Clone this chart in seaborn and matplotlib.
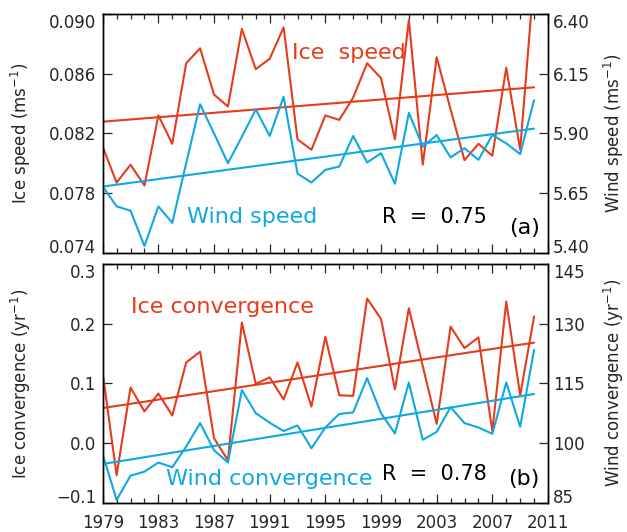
import matplotlib
matplotlib.use("Agg")
import matplotlib.pyplot as plt
import seaborn as sns
import numpy as np

# ---------------- data ----------------
years = list(range(1979, 2011))
ice_speed = [0.0811, 0.0787, 0.0799, 0.0785, 0.0832, 0.0813, 0.0867, 0.0877,
             0.0846, 0.0838, 0.0890, 0.0863, 0.0870, 0.0891, 0.0816, 0.0809,
             0.0832, 0.0829, 0.0844, 0.0867, 0.0857, 0.0816, 0.0896, 0.0799,
             0.0871, 0.0836, 0.0802, 0.0813, 0.0805, 0.0864, 0.0809, 0.0925]
wind_speed = [5.678, 5.594, 5.576, 5.428, 5.594, 5.525, 5.775, 6.022,
              5.900, 5.775, 5.886, 6.000, 5.889, 6.053, 5.731, 5.694,
              5.747, 5.761, 5.889, 5.778, 5.817, 5.689, 5.986, 5.844,
              5.893, 5.799, 5.838, 5.789, 5.893, 5.858, 5.813, 6.039]
ice_conv = [0.117, -0.054, 0.093, 0.053, 0.083, 0.046, 0.135, 0.153,
            0.008, -0.029, 0.202, 0.099, 0.110, 0.073, 0.135, 0.061,
            0.178, 0.080, 0.079, 0.242, 0.208, 0.090, 0.226, 0.129,
            0.032, 0.195, 0.159, 0.177, 0.020, 0.237, 0.080, 0.212]
wind_conv = [97.2, 85.7, 91.8, 92.8, 95.1, 93.9, 99.1, 105.0,
             98.2, 95.1, 113.3, 107.5, 105.1, 103.0, 104.4, 98.7,
             103.9, 107.3, 107.7, 116.3, 107.5, 102.4, 115.2, 100.8,
             102.8, 109.0, 105.0, 103.9, 102.3, 115.2, 104.1, 123.4]

xticks = list(range(1979, 2012, 4))
top_left_ticks = [0.074, 0.078, 0.082, 0.086, 0.090]
top_left_labels = ["0.074", "0.078", "0.082", "0.086", "0.090"]
top_right_ticks = [5.40, 5.65, 5.90, 6.15, 6.40]
top_right_labels = ["5.40", "5.65", "5.90", "6.15", "6.40"]
bot_left_ticks = [-0.1, 0.0, 0.1, 0.2, 0.3]
bot_left_labels = ["\u22120.1", "0.0", "0.1", "0.2", "0.3"]
bot_right_ticks = [85, 100, 115, 130, 145]
bot_right_labels = ["85", "100", "115", "130", "145"]

RED = "#E43C1C"
BLUE = "#0FA8E2"

sns.set_style("ticks")
plt.rcParams["font.family"] = ["DejaVu Sans"]

fig = plt.figure(figsize=(6.27, 5.32), dpi=100)
ax1 = fig.add_axes([0.1638, 0.5250, 0.7102, 0.4487])
ax2 = fig.add_axes([0.1638, 0.0551, 0.7102, 0.4487])


def style_axes(ax, tw, lt, ll, rt, rl, ylim_l, ylim_r, show_x):
    ax.set_xlim(1979, 2011)
    ax.set_ylim(*ylim_l)
    tw.set_ylim(*ylim_r)
    ax.set_xticks(xticks)
    ax.set_yticks(lt)
    ax.set_yticklabels(ll)
    tw.set_yticks(rt)
    tw.set_yticklabels(rl)
    ax.tick_params(axis="x", which="major", direction="in", length=6.5, width=0.9,
                   top=True, bottom=True, labelbottom=show_x, labelsize=12, pad=8)
    ax.tick_params(axis="y", which="major", direction="in", length=6.5, width=0.9,
                   left=True, right=False, labelsize=12, pad=4.5)
    tw.tick_params(axis="y", which="major", direction="in", length=6.5, width=0.9,
                   right=True, labelsize=12, pad=3.5)
    ax.xaxis.set_minor_locator(matplotlib.ticker.FixedLocator(years + [2011]))
    ax.tick_params(axis="x", which="minor", direction="in", length=3.6, width=0.9,
                   top=True, bottom=True)
    ax.yaxis.set_minor_locator(matplotlib.ticker.NullLocator())
    tw.yaxis.set_minor_locator(matplotlib.ticker.NullLocator())
    for a in (ax, tw):
        labs = a.get_yticklabels()
        labs[0].set_va("baseline")
        labs[-1].set_va("top")
        for s in a.spines.values():
            s.set_visible(True)
            s.set_linewidth(1.0)
            s.set_color("black")


# ---------------- top panel ----------------
tw1 = ax1.twinx()
sns.lineplot(x=years, y=ice_speed, ax=ax1, color=RED, lw=1.5)
sns.regplot(x=years, y=ice_speed, ax=ax1, scatter=False, ci=None, color=RED,
            line_kws={"lw": 1.5})
sns.lineplot(x=years, y=wind_speed, ax=tw1, color=BLUE, lw=1.5)
sns.regplot(x=years, y=wind_speed, ax=tw1, scatter=False, ci=None, color=BLUE,
            line_kws={"lw": 1.5})
style_axes(ax1, tw1, top_left_ticks, top_left_labels, top_right_ticks,
           top_right_labels, (0.074, 0.090), (5.40, 6.40), False)
ax1.set_xlabel("")
ax1.set_ylabel(r"Ice speed (ms$^{-1}$)", fontsize=12)
tw1.set_ylabel(r"Wind speed (ms$^{-1}$)", fontsize=12)
ax1.yaxis.set_label_coords(-0.1565, 0.5)
tw1.yaxis.set_label_coords(1.121, 0.5)

ax1.text(0.426, 0.8115, "Ice  speed", color=RED, fontsize=16,
         transform=ax1.transAxes, ha="left", va="baseline")
ax1.text(0.1886, 0.1257, "Wind speed", color=BLUE, fontsize=16,
         transform=ax1.transAxes, ha="left", va="baseline")
ax1.text(0.6265, 0.1257, "R  =  0.75", color="black", fontsize=15,
         transform=ax1.transAxes, ha="left", va="baseline")
ax1.text(0.9466, 0.1047, "(a)", color="black", fontsize=16,
         transform=ax1.transAxes, ha="center", va="center")

# ---------------- bottom panel ----------------
tw2 = ax2.twinx()
sns.lineplot(x=years, y=ice_conv, ax=ax2, color=RED, lw=1.5)
sns.regplot(x=years, y=ice_conv, ax=ax2, scatter=False, ci=None, color=RED,
            line_kws={"lw": 1.5})
sns.lineplot(x=years, y=wind_conv, ax=tw2, color=BLUE, lw=1.5)
sns.regplot(x=years, y=wind_conv, ax=tw2, scatter=False, ci=None, color=BLUE,
            line_kws={"lw": 1.5})
style_axes(ax2, tw2, bot_left_ticks, bot_left_labels, bot_right_ticks,
           bot_right_labels, (-0.1, 0.3), (85, 145), True)
ax2.set_xlabel("")
ax2.set_ylabel(r"Ice convergence (yr$^{-1}$)", fontsize=12)
tw2.set_ylabel(r"Wind convergence (yr$^{-1}$)", fontsize=12)
ax2.yaxis.set_label_coords(-0.1565, 0.5)
tw2.yaxis.set_label_coords(1.121, 0.5)

ax2.text(0.0636, 0.796, "Ice convergence", color=RED, fontsize=16,
         transform=ax2.transAxes, ha="left", va="baseline")
ax2.text(0.1422, 0.0742, "Wind convergence", color=BLUE, fontsize=16,
         transform=ax2.transAxes, ha="left", va="baseline")
ax2.text(0.6265, 0.0951, "R  =  0.78", color="black", fontsize=15,
         transform=ax2.transAxes, ha="left", va="baseline")
ax2.text(0.9466, 0.0993, "(b)", color="black", fontsize=16,
         transform=ax2.transAxes, ha="center", va="center")

fig.savefig("out.png", dpi=100)
